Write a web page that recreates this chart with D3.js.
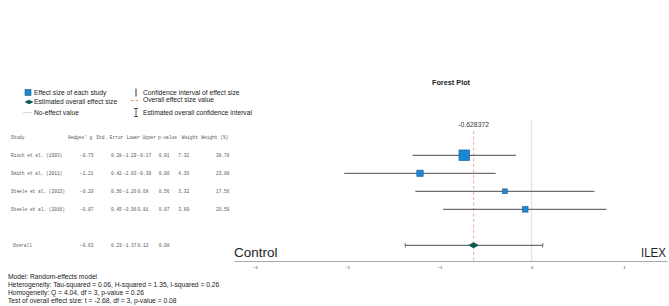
<!DOCTYPE html>
<html><head><meta charset="utf-8">
<script src="https://cdn.jsdelivr.net/npm/d3@7"></script>
<style>body{margin:0;background:#fff}svg{display:block}</style>
</head><body>
<script>
const studies = ["Risch et al. (1993)", "Smith et al. (2011)", "Steele et al. (2013)", "Steele et al. (2016)"];
const hedgesG = [-0.73, -1.21, -0.29, -0.07];
const stdError = [0.28, 0.42, 0.50, 0.45];
const lowerCI = [-1.29, -2.03, -1.26, -0.96];
const upperCI = [-0.17, -0.39, 0.68, 0.81];
const pValue = [0.01, 0.00, 0.56, 0.87];
const weight = [7.32, 4.36, 3.32, 3.89];
const weightPct = [38.78, 23.08, 17.56, 20.58];
const overallRow = {g: -0.63, se: 0.23, lower: -1.37, upper: 0.12, p: 0.08};
const overallExact = -0.628372;
const xTicks = [-3, -2, -1, 0, 1];
const headers = ["Study", "Hedges' g", "Std. Error", "Lower", "Upper", "p-value", "Weight", "Weight (%)"];
const notes = [
  "Model: Random-effects model",
  "Heterogeneity: Tau-squared = 0.06, H-squared = 1.35, I-squared = 0.26",
  "Homogeneity: Q = 4.04, df = 3, p-value = 0.26",
  "Test of overall effect size: t = -2.68, df = 3, p-value = 0.08"
];

const W = 669, H = 306;
const svg = d3.select("body").append("svg").attr("width", W).attr("height", H);
const sans = "'Liberation Sans', Arial, sans-serif";
const mono = "'Liberation Mono', 'Courier New', monospace";

const x = d3.scaleLinear().domain([-3.225, 1.466]).range([234, 667]);
const y = d3.scaleLinear().domain([0, 5]).range([155.3, 245.3]);
const sz = d3.scaleLinear().domain([0, 38.78]).range([0, 10.7]);
const f2 = d3.format(".2f");

// Title
svg.append("text").attr("x", 451).attr("y", 84.5).attr("text-anchor", "middle")
  .attr("font-family", sans).attr("font-weight", "bold").attr("font-size", 7.3).attr("fill", "#222").text("Forest Plot");

// zero line
svg.append("line").attr("x1", x(0)).attr("x2", x(0)).attr("y1", 120).attr("y2", 261)
  .attr("stroke", "#dcdcdc").attr("stroke-width", 1);

// overall dashed
svg.append("line").attr("x1", x(overallExact)).attr("x2", x(overallExact)).attr("y1", 131).attr("y2", 261)
  .attr("stroke", "#f3a3a3").attr("stroke-width", 1).attr("stroke-dasharray", "3,2.5");
svg.append("text").attr("x", x(overallExact)).attr("y", 127.4).attr("text-anchor", "middle")
  .attr("font-family", sans).attr("font-size", 6.8).attr("fill", "#333").text(String(overallExact));

// axis
const axis = d3.axisBottom(x).tickValues(xTicks).tickSize(0).tickPadding(5).tickFormat(d3.format("d"));
const ax = svg.append("g").attr("transform", "translate(0,261)").call(axis);
ax.select(".domain").attr("stroke", "#a8a8a8").attr("stroke-width", 1.2);
ax.selectAll("text").attr("font-family", sans).attr("font-size", 4.2).attr("fill", "#444");

svg.append("text").attr("x", 234).attr("y", 256.5).attr("font-family", sans).attr("font-size", 13.5)
  .attr("fill", "#222").text("Control");
svg.append("text").attr("x", 666).attr("y", 256.5).attr("text-anchor", "end").attr("font-family", sans).attr("font-size", 13.5)
  .attr("textLength", 25).attr("lengthAdjust", "spacingAndGlyphs")
  .attr("fill", "#222").text("ILEX");

// study CI lines and squares
const rows = studies.map((s, i) => ({s, i, g: hedgesG[i], lo: lowerCI[i], hi: upperCI[i], w: weightPct[i]}));
svg.selectAll("line.ci").data(rows).join("line").attr("class", "ci")
  .attr("x1", d => x(d.lo)).attr("x2", d => x(d.hi)).attr("y1", d => y(d.i)).attr("y2", d => y(d.i))
  .attr("stroke", "#4a4a4a").attr("stroke-width", 1);
svg.selectAll("rect.sq").data(rows).join("rect").attr("class", "sq")
  .attr("x", d => x(d.g) - sz(d.w) / 2).attr("y", d => y(d.i) - sz(d.w) / 2)
  .attr("width", d => sz(d.w)).attr("height", d => sz(d.w))
  .attr("fill", "#1a86d6").attr("stroke", "#2d5c84").attr("stroke-width", 0.6);

// overall CI with caps
const yo = y(5);
svg.append("line").attr("x1", x(overallRow.lower)).attr("x2", x(overallRow.upper)).attr("y1", yo).attr("y2", yo)
  .attr("stroke", "#4a4a4a").attr("stroke-width", 1);
[overallRow.lower, overallRow.upper].forEach(v => {
  svg.append("line").attr("x1", x(v)).attr("x2", x(v)).attr("y1", yo - 2.2).attr("y2", yo + 2.2)
    .attr("stroke", "#4a4a4a").attr("stroke-width", 0.8);
});
const dx = x(overallRow.g);
svg.append("path").attr("d", `M${dx - 5.3},${yo} L${dx},${yo - 3} L${dx + 5.3},${yo} L${dx},${yo + 3} Z`)
  .attr("fill", "#0b5a52");

// table
const colX = [11, 68, 96.3, 126.5, 142.5, 158, 181.7, 201.3];
const valX = [11, 80, 111, 123, 137.6, 158.7, 178.3, 216];
const tf = 4.5;
svg.selectAll("text.hdr").data(headers).join("text").attr("class", "hdr")
  .attr("x", (d, i) => colX[i]).attr("y", y(-1)).attr("dy", "0.35em")
  .attr("font-family", mono).attr("font-size", tf).attr("fill", "#555").text(d => d);
rows.forEach(r => {
  const cells = [r.s, f2(r.g), f2(stdError[r.i]), f2(r.lo), f2(r.hi), f2(pValue[r.i]), f2(weight[r.i]), f2(r.w)];
  svg.selectAll(null).data(cells).join("text")
    .attr("x", (d, j) => valX[j]).attr("y", y(r.i)).attr("dy", "0.35em")
    .attr("font-family", mono).attr("font-size", tf).attr("fill", "#555").text(d => d);
});
const oc = ["Overall", f2(overallRow.g), f2(overallRow.se), f2(overallRow.lower), f2(overallRow.upper), f2(overallRow.p)];
svg.selectAll(null).data(oc).join("text")
  .attr("x", (d, j) => j === 0 ? 13 : valX[j]).attr("y", yo).attr("dy", "0.35em")
  .attr("font-family", mono).attr("font-size", tf).attr("fill", "#555").text(d => d);

// notes
svg.selectAll("text.note").data(notes).join("text").attr("class", "note")
  .attr("x", 8).attr("y", (d, i) => 279 + i * 8.1)
  .attr("font-family", sans).attr("font-size", 6.7).attr("fill", "#222").text(d => d);

// legend
const lf = 6.7;
const lg = svg.append("g").attr("font-family", sans).attr("font-size", lf).attr("fill", "#222");
lg.append("rect").attr("x", 25).attr("y", 89.5).attr("width", 6).attr("height", 6)
  .attr("fill", "#1a86d6").attr("stroke", "#2d5c84").attr("stroke-width", 0.6);
lg.append("text").attr("x", 34).attr("y", 94.6).text("Effect size of each study");
lg.append("path").attr("d", "M24.5,102 L29,99.8 L33.5,102 L29,104.2 Z").attr("fill", "#0b5a52");
lg.append("text").attr("x", 34).attr("y", 104.4).text("Estimated overall effect size");
lg.append("line").attr("x1", 23).attr("x2", 32).attr("y1", 112.5).attr("y2", 112.5).attr("stroke", "#d8d8d8").attr("stroke-width", 1);
lg.append("text").attr("x", 34).attr("y", 115).text("No-effect value");

lg.append("line").attr("x1", 136).attr("x2", 136).attr("y1", 88.5).attr("y2", 96.5).attr("stroke", "#333").attr("stroke-width", 1);
lg.append("text").attr("x", 143).attr("y", 94.6).text("Confidence interval of effect size");
lg.append("line").attr("x1", 131).attr("x2", 140).attr("y1", 100.6).attr("y2", 100.6).attr("stroke", "#f08080")
  .attr("stroke-width", 1).attr("stroke-dasharray", "2.5,2");
lg.append("text").attr("x", 143).attr("y", 102.3).text("Overall effect size value");
lg.append("line").attr("x1", 136).attr("x2", 136).attr("y1", 108.5).attr("y2", 116.5).attr("stroke", "#333").attr("stroke-width", 0.8);
lg.append("line").attr("x1", 134).attr("x2", 138).attr("y1", 108.5).attr("y2", 108.5).attr("stroke", "#333").attr("stroke-width", 0.8);
lg.append("line").attr("x1", 134).attr("x2", 138).attr("y1", 116.5).attr("y2", 116.5).attr("stroke", "#333").attr("stroke-width", 0.8);
lg.append("text").attr("x", 143).attr("y", 115).text("Estimated overall confidence interval");
</script>
</body></html>
